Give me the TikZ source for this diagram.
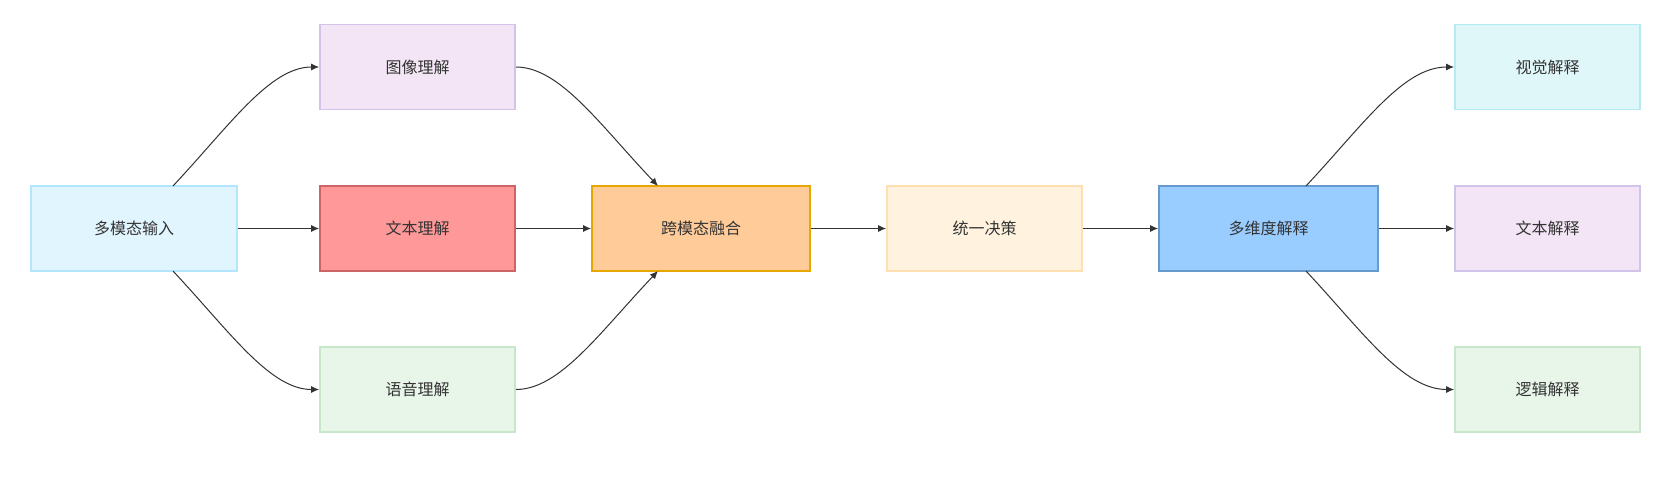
\documentclass[tikz,border=0pt]{standalone}
\usepackage{fontspec}
\newfontfamily\cjk{Noto Sans CJK SC}
\usetikzlibrary{arrows.meta}
\definecolor{txt}{HTML}{333333}
\definecolor{f1}{HTML}{E1F5FE}\definecolor{d1}{HTML}{B3E5FC}
\definecolor{f2}{HTML}{F3E5F5}\definecolor{d2}{HTML}{D1C4E9}
\definecolor{f3}{HTML}{FF9999}\definecolor{d3}{HTML}{CC6666}
\definecolor{f4}{HTML}{E8F5E9}\definecolor{d4}{HTML}{C8E6C9}
\definecolor{f5}{HTML}{FFCC99}\definecolor{d5}{HTML}{E6A800}
\definecolor{f6}{HTML}{FFF3E0}\definecolor{d6}{HTML}{FFE0B2}
\definecolor{f7}{HTML}{99CCFF}\definecolor{d7}{HTML}{6699CC}
\definecolor{f8}{HTML}{E0F7FA}\definecolor{d8}{HTML}{B2EBF2}
\begin{document}
\begin{tikzpicture}[x=1pt,y=-1pt,
  box/.style={draw, line width=1.8pt, minimum width=#1, minimum height=85pt, inner sep=0pt, font=\cjk\fontsize{16}{18}\selectfont, text=txt},
  arr/.style={draw=txt, line width=1pt, -{Latex[length=8pt,width=7pt]}}]
\useasboundingbox (0,0) rectangle (1668,490);
\node[box=206pt, fill=f1, draw=d1] (in) at (134,228.5) {多模态输入};
\node[box=195pt, fill=f2, draw=d2] (img) at (417.5,67) {图像理解};
\node[box=195pt, fill=f3, draw=d3] (txtu) at (417.5,228.5) {文本理解};
\node[box=195pt, fill=f4, draw=d4] (sp) at (417.5,389.5) {语音理解};
\node[box=218pt, fill=f5, draw=d5] (fu) at (701,228.5) {跨模态融合};
\node[box=195pt, fill=f6, draw=d6] (de) at (984.5,228.5) {统一决策};
\node[box=219pt, fill=f7, draw=d7] (md) at (1268.5,228.5) {多维度解释};
\node[box=185pt, fill=f8, draw=d8] (vis) at (1547.5,67) {视觉解释};
\node[box=185pt, fill=f2, draw=d2] (te) at (1547.5,228.5) {文本解释};
\node[box=185pt, fill=f4, draw=d4] (lo) at (1547.5,389.5) {逻辑解释};
\path[arr] (in) -- (txtu);
\path[arr] (txtu) -- (fu);
\path[arr] (fu) -- (de);
\path[arr] (de) -- (md);
\path[arr] (md) -- (te);
\coordinate (inT) at (173,186); \coordinate (inB) at (173,271);
\coordinate (fuT) at (658,186); \coordinate (fuB) at (658,271);
\coordinate (mdT) at (1306,186); \coordinate (mdB) at (1306,271);
\path[arr] (inT) .. controls (230,125) and (270,67) .. (img.west);
\path[arr] (inB) .. controls (230,332) and (270,389.5) .. (sp.west);
\path[arr] (img.east) .. controls (560,67) and (600,125) .. (fuT);
\path[arr] (sp.east) .. controls (560,389.5) and (600,332) .. (fuB);
\path[arr] (mdT) .. controls (1363,125) and (1403,67) .. (vis.west);
\path[arr] (mdB) .. controls (1363,332) and (1403,389.5) .. (lo.west);
\end{tikzpicture}
\end{document}
